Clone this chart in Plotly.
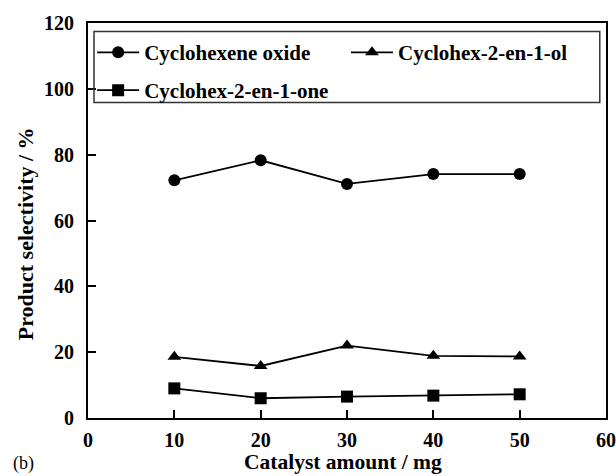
import plotly.graph_objects as go

catalyst_mg = [10, 20, 30, 40, 50]
oxide = [72.2, 78.3, 71.1, 74.1, 74.1]
enol = [18.6, 15.8, 22.0, 18.9, 18.7]
enone = [9.0, 6.0, 6.5, 6.8, 7.2]

names = ["Cyclohexene oxide", "Cyclohex-2-en-1-ol", "Cyclohex-2-en-1-one"]
symbols = ["circle", "triangle-up", "square"]
series = [oxide, enol, enone]
legend_ids = ["legend", "legend2", "legend3"]

x_ticks = [0, 10, 20, 30, 40, 50, 60]
y_ticks = [0, 20, 40, 60, 80, 100, 120]

FONT = "Liberation Serif"

fig = go.Figure()
for name, sym, vals, lg in zip(names, symbols, series, legend_ids):
    fig.add_trace(go.Scatter(
        x=catalyst_mg, y=vals, name="<b>" + name + "</b>", mode="lines+markers",
        line=dict(color="black", width=1.8),
        marker=dict(symbol=sym, size=12, color="black"),
        legend=lg,
    ))

def leg(x, y):
    return dict(
        x=x, y=y, xanchor="left", yanchor="middle",
        bgcolor="rgba(0,0,0,0)", borderwidth=0,
        font=dict(family=FONT, size=21, color="black"),
        itemwidth=42,
    )

fig.update_layout(
    width=616, height=476,
    margin=dict(l=88, r=10, t=23, b=58),
    paper_bgcolor="white", plot_bgcolor="white",
    font=dict(family=FONT, color="black"),
    showlegend=True,
    legend=leg(0.008, 0.925),
    legend2=leg(0.498, 0.925),
    legend3=leg(0.008, 0.829),
    xaxis=dict(
        range=[0, 60], tickvals=x_ticks, ticktext=["<b>%d</b>" % v for v in x_ticks],
        ticks="inside", ticklen=8, tickwidth=1.5, tickcolor="black",
        ticklabelstandoff=3, automargin=False,
        showline=True, linecolor="black", linewidth=2, mirror=True,
        showgrid=False, zeroline=False,
        tickfont=dict(family=FONT, size=20, color="black"),
    ),
    yaxis=dict(
        range=[0, 120], tickvals=y_ticks, ticktext=["<b>%d</b>" % v for v in y_ticks],
        ticks="inside", ticklen=8, tickwidth=1.5, tickcolor="black",
        ticklabelstandoff=8, automargin=False,
        showline=True, linecolor="black", linewidth=2, mirror=True,
        showgrid=False, zeroline=False,
        tickfont=dict(family=FONT, size=20, color="black"),
    ),
    shapes=[dict(type="rect", xref="paper", yref="paper",
                 x0=0.0116, x1=0.988, y0=0.799, y1=0.9785,
                 line=dict(color="#333", width=1.5))],
    annotations=[
        dict(text="<b>Catalyst amount / mg</b>", xref="paper", yref="paper",
             x=0.493, y=-0.112, xanchor="center", yanchor="middle",
             showarrow=False, font=dict(family=FONT, size=21.5, color="black")),
        dict(text="<b>Product selectivity / %</b>", xref="paper", yref="paper",
             x=-0.1216, y=0.4652, xanchor="center", yanchor="middle", textangle=-90,
             showarrow=False, font=dict(family=FONT, size=22, color="black")),
        dict(text="(b)", xref="paper", yref="paper",
             x=-0.148, y=-0.116, xanchor="left", yanchor="middle",
             showarrow=False, font=dict(family=FONT, size=18, color="black")),
    ],
)

fig.write_html("out.html")
